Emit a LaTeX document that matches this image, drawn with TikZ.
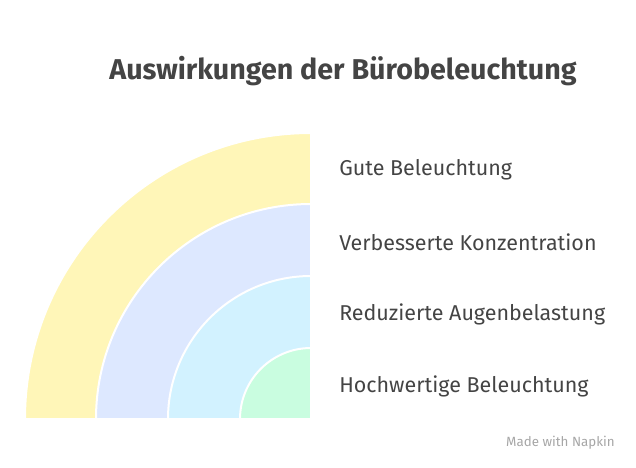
\documentclass[tikz,border=0pt]{standalone}
\usepackage{fontspec}
\setmainfont{Fira Sans}
\usepackage{tikz}
\usetikzlibrary{positioning}
\definecolor{ringyellow}{RGB}{255,246,184}
\definecolor{ringblue}{RGB}{221,232,255}
\definecolor{ringcyan}{RGB}{210,242,255}
\definecolor{ringmint}{RGB}{201,253,224}
\definecolor{textgray}{RGB}{68,68,68}
\tikzstyle{ring} = [draw=white, line width=1.5pt]
\tikzstyle{label} = [anchor=west, inner sep=0pt, text=textgray, font=\fontsize{16.1}{18}\selectfont]
\tikzstyle{heading} = [inner sep=0pt, text=textgray, font=\fontsize{21.5}{24}\selectfont\bfseries]

\begin{document}
\begin{tikzpicture}[x=0.75pt, y=-0.75pt]
        \useasboundingbox (0,0) rectangle (636,468);
        \coordinate (Center) at (311,419);

        % rings, outer to inner
        \draw[ring, fill=ringyellow] (Center) -- ++(-286,0) arc[start angle=180, end angle=270, radius=286] -- cycle;
        \draw[ring, fill=ringblue] (Center) -- ++(-215,0) arc[start angle=180, end angle=270, radius=215] -- cycle;
        \draw[ring, fill=ringcyan] (Center) -- ++(-143,0) arc[start angle=180, end angle=270, radius=143] -- cycle;
        \draw[ring, fill=ringmint] (Center) -- ++(-71,0) arc[start angle=180, end angle=270, radius=71] -- cycle;

        % title
        \node[heading] (Title) at (343,71) {Auswirkungen der Bürobeleuchtung};

        % labels
        \node[label] (GoodLight) at (339,170) {Gute Beleuchtung};
        \node[label] (Focus) at (339,242) {Verbesserte Konzentration};
        \node[label] (EyeStrain) at (339,314) {Reduzierte Augenbelastung};
        \node[label] (QualityLight) at (339,386) {Hochwertige Beleuchtung};

        % footer
        \node[anchor=east, inner sep=0pt, text=black!35, font=\fontsize{10}{11}\selectfont] (Footer) at (615,443) {Made with Napkin};
\end{tikzpicture}
\end{document}
